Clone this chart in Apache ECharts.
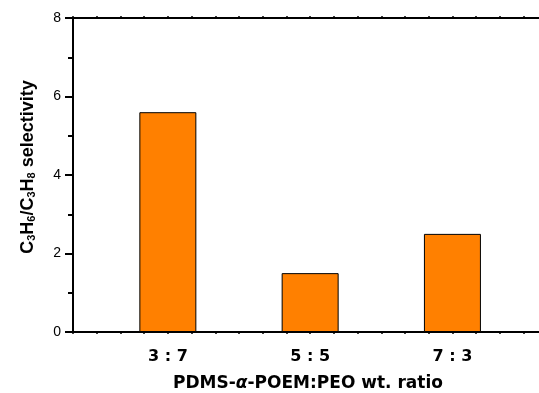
<!DOCTYPE html>
<html>
<head>
<meta charset="utf-8">
<script src="https://cdn.jsdelivr.net/npm/echarts@6/dist/echarts.min.js"></script>
<style>
  html, body { margin: 0; padding: 0; background: #fff; overflow: hidden; }
  #chart { width: 539px; height: 393px; }
</style>
</head>
<body>
<div id="chart"></div>
<script>
// Blend ratios and measured selectivity
const categories = ['3 : 7', '5 : 5', '7 : 3'];
const selectivity = [5.6, 1.5, 2.5];
const yTicks = [0, 2, 4, 6, 8];

// Categories sit on a fine numeric x scale (6 minor steps per category)
const STEP = 6;
const catPos = categories.map((c, i) => (i + 1) * STEP);
const barData = selectivity.map((v, i) => [catPos[i], v]);

const FONT = '"Liberation Sans", Arial, sans-serif';
const WIDE_FONT = '"DejaVu Sans", Verdana, sans-serif';
const AXIS_COLOR = '#000';

const chart = echarts.init(document.getElementById('chart'), null, { renderer: 'canvas' });

// The frame runs past the right edge of the canvas
const xCommon = {
  type: 'value',
  min: 2,
  max: 23,
  interval: 1,
  axisLine: { show: true, lineStyle: { color: AXIS_COLOR, width: 2 } },
  axisTick: { show: true, length: 2, lineStyle: { color: AXIS_COLOR, width: 1.5 } },
  splitLine: { show: false }
};

chart.setOption({
  animation: false,
  backgroundColor: '#fff',
  grid: { left: 73, top: 18, right: -32, bottom: 61, containLabel: false, outerBoundsMode: 'none' },
  xAxis: [
    Object.assign({}, xCommon, {
      position: 'bottom',
      name: 'PDMS-{i|α}-POEM:PEO wt. ratio',
      nameLocation: 'middle',
      nameGap: 43,
      nameTextStyle: {
        fontFamily: WIDE_FONT, fontSize: 17, fontWeight: 'bold', color: '#000',
        padding: [0, 28, 0, 0],
        rich: { i: { fontFamily: WIDE_FONT, fontSize: 17, fontWeight: 'bold', fontStyle: 'italic', color: '#000' } }
      },
      axisLabel: {
        show: true,
        margin: 17,
        fontFamily: WIDE_FONT, fontSize: 16, fontWeight: 'bold', color: '#000',
        formatter: function (v) {
          const idx = catPos.indexOf(v);
          return idx >= 0 ? categories[idx] : '';
        }
      }
    }),
    Object.assign({}, xCommon, {
      position: 'top',
      axisLabel: { show: false }
    })
  ],
  yAxis: {
    type: 'value',
    min: yTicks[0],
    max: yTicks[yTicks.length - 1],
    interval: yTicks[1] - yTicks[0],
    name: '{b|C}{s|3}{b|H}{s|6}{b|/C}{s|3}{b|H}{s|8}{b| selectivity}',
    nameLocation: 'middle',
    nameRotate: 90,
    nameGap: 36,
    nameTextStyle: {
      padding: [0, 0, 0, 16],
      rich: {
        b: { fontFamily: FONT, fontSize: 18, fontWeight: 'bold', color: '#000', lineHeight: 20, verticalAlign: 'bottom' },
        s: { fontFamily: FONT, fontSize: 11, fontWeight: 'bold', color: '#000', lineHeight: 15, verticalAlign: 'bottom' }
      }
    },
    axisLine: { show: true, lineStyle: { color: AXIS_COLOR, width: 2 } },
    axisTick: { show: true, length: 8, lineStyle: { color: AXIS_COLOR, width: 2 } },
    minorTick: { show: true, splitNumber: 2, length: 5, lineStyle: { color: AXIS_COLOR, width: 2 } },
    splitLine: { show: false },
    axisLabel: { margin: 12, fontFamily: FONT, fontSize: 14, color: '#000' }
  },
  series: [{
    type: 'bar',
    data: barData,
    barWidth: 57,
    itemStyle: { color: '#ff8000', borderColor: '#000', borderWidth: 1 }
  }]
});
</script>
</body>
</html>
